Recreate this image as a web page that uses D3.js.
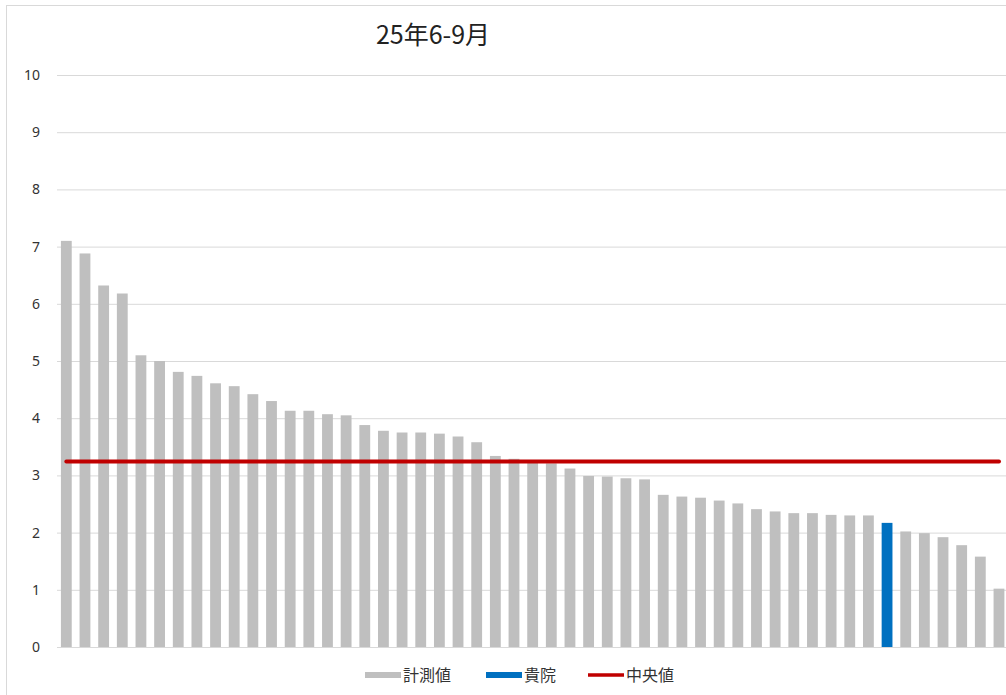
<!DOCTYPE html>
<html><head><meta charset="utf-8">
<script src="https://cdn.jsdelivr.net/npm/d3@7"></script>
<style>body{margin:0;background:#fff;}svg{display:block;}</style>
</head><body>
<svg id="c" width="1006" height="695"></svg>
<script>
const title = "25年6-9月";
const values = [7.10,6.88,6.32,6.18,5.10,5.00,4.81,4.74,4.61,4.56,4.42,4.30,4.13,4.13,4.07,4.05,3.88,3.78,3.75,3.75,3.73,3.68,3.58,3.34,3.29,3.24,3.21,3.12,2.99,2.98,2.95,2.93,2.66,2.63,2.61,2.56,2.51,2.41,2.37,2.34,2.34,2.31,2.30,2.30,2.17,2.02,1.99,1.92,1.78,1.58,1.02];
const ownIndex = 44;
const medianValue = 3.245;
const yTicks = [0,1,2,3,4,5,6,7,8,9,10];
const legendLabels = ["計測値","貴院","中央値"];
const colors = {measured:"#bfbfbf", own:"#0070c0", median:"#c00000"};

const categories = values.map((v,i)=>i);
const svg = d3.select("#c");
const font = "'Noto Sans', 'Noto Sans CJK JP', sans-serif";

svg.append("rect").attr("x",6.5).attr("y",5.5).attr("width",1010).attr("height",700)
  .attr("fill","#fff").attr("stroke","#d9d9d9");

const x = d3.scaleBand().domain(categories).range([57,1008.3]).paddingInner(0.42).paddingOuter(0.21);
const y = d3.scaleLinear().domain([0,10]).range([647,75]);

const yAxis = d3.axisLeft(y).tickValues(yTicks).tickSize(-(1010-57)).tickPadding(17);
const ga = svg.append("g").attr("transform","translate(57,0)").call(yAxis);
ga.select(".domain").remove();
ga.selectAll(".tick line").attr("stroke","#d9d9d9").attr("stroke-width",1);
ga.selectAll(".tick text").attr("font-family",font).attr("font-size",14).attr("fill","#333");

svg.append("g").selectAll("rect").data(values).join("rect")
  .attr("x",(d,i)=>x(categories[i])).attr("width",x.bandwidth())
  .attr("y",d=>y(d)).attr("height",d=>y(0)-y(d))
  .attr("fill",(d,i)=>i===ownIndex?colors.own:colors.measured);

const line = d3.line().x(d=>x(d)+x.bandwidth()/2).y(()=>y(medianValue));
svg.append("path").datum([categories[0],categories[categories.length-1]])
  .attr("d",line).attr("stroke",colors.median).attr("stroke-width",4).attr("fill","none").attr("stroke-linecap","round");

svg.append("text").attr("x",433).attr("y",44).attr("text-anchor","middle")
  .attr("font-family","'Noto Sans CJK JP', sans-serif").attr("font-size",25).attr("fill","#222").text(title);

const lg = svg.append("g");
const items = [
  {label:legendLabels[0], color:colors.measured, x:365, h:6},
  {label:legendLabels[1], color:colors.own, x:486, h:6},
  {label:legendLabels[2], color:colors.median, x:588, h:3.5}
];
items.forEach(it=>{
  lg.append("rect").attr("x",it.x).attr("y",675-it.h/2).attr("width",36).attr("height",it.h).attr("fill",it.color);
  lg.append("text").attr("x",it.x+38).attr("y",681).attr("font-family","'Noto Sans CJK JP', sans-serif")
    .attr("font-size",16).attr("fill","#333").text(it.label);
});
</script>
</body></html>
